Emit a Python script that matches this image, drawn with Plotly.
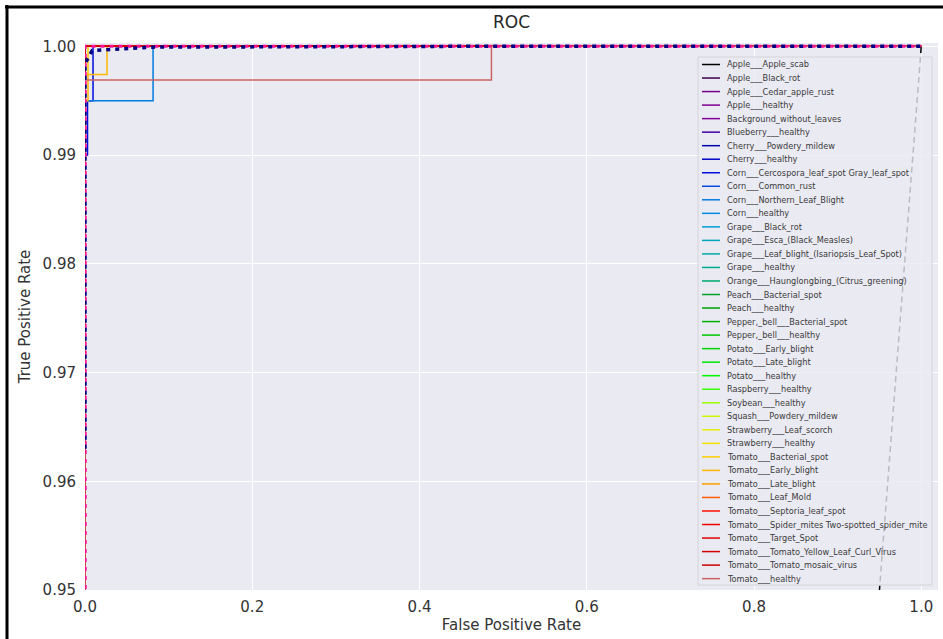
import plotly.graph_objects as go

# ---------------- data ----------------
class_names = [
    "Apple___Apple_scab", "Apple___Black_rot", "Apple___Cedar_apple_rust", "Apple___healthy",
    "Background_without_leaves", "Blueberry___healthy", "Cherry___Powdery_mildew", "Cherry___healthy",
    "Corn___Cercospora_leaf_spot Gray_leaf_spot", "Corn___Common_rust", "Corn___Northern_Leaf_Blight",
    "Corn___healthy", "Grape___Black_rot", "Grape___Esca_(Black_Measles)",
    "Grape___Leaf_blight_(Isariopsis_Leaf_Spot)", "Grape___healthy",
    "Orange___Haunglongbing_(Citrus_greening)", "Peach___Bacterial_spot", "Peach___healthy",
    "Pepper,_bell___Bacterial_spot", "Pepper,_bell___healthy", "Potato___Early_blight",
    "Potato___Late_blight", "Potato___healthy", "Raspberry___healthy", "Soybean___healthy",
    "Squash___Powdery_mildew", "Strawberry___Leaf_scorch", "Strawberry___healthy",
    "Tomato___Bacterial_spot", "Tomato___Early_blight", "Tomato___Late_blight", "Tomato___Leaf_Mold",
    "Tomato___Septoria_leaf_spot", "Tomato___Spider_mites Two-spotted_spider_mite",
    "Tomato___Target_Spot", "Tomato___Tomato_Yellow_Leaf_Curl_Virus", "Tomato___Tomato_mosaic_virus",
    "Tomato___healthy",
]

# curve of a perfectly separated class
perfect_fpr = [0.0, 0.0, 1.0]
perfect_tpr = [0.0, 1.0, 1.0]

# classes with visible imperfections
corn_cercospora_fpr = [0.0, 0.0, 0.003, 0.003, 0.0096, 0.0096, 1.0]
corn_cercospora_tpr = [0.0, 0.990, 0.990, 0.995, 0.995, 1.0, 1.0]
corn_northern_fpr = [0.0, 0.0, 0.0814, 0.0814, 1.0]
corn_northern_tpr = [0.0, 0.995, 0.995, 1.0, 1.0]
tomato_bacterial_fpr = [0.0, 0.0, 0.0036, 0.0036, 1.0]
tomato_bacterial_tpr = [0.0, 0.9974, 0.9974, 1.0, 1.0]
tomato_early_fpr = [0.0, 0.0, 0.0036, 0.0036, 0.0263, 0.0263, 1.0]
tomato_early_tpr = [0.0, 0.995, 0.995, 0.9974, 0.9974, 1.0, 1.0]
tomato_healthy_fpr = [0.0, 0.0, 0.486, 0.486, 1.0]
tomato_healthy_tpr = [0.0, 0.9969, 0.9969, 1.0, 1.0]

special_curves = {
    "Corn___Cercospora_leaf_spot Gray_leaf_spot": (corn_cercospora_fpr, corn_cercospora_tpr),
    "Corn___Northern_Leaf_Blight": (corn_northern_fpr, corn_northern_tpr),
    "Tomato___Bacterial_spot": (tomato_bacterial_fpr, tomato_bacterial_tpr),
    "Tomato___Early_blight": (tomato_early_fpr, tomato_early_tpr),
    "Tomato___healthy": (tomato_healthy_fpr, tomato_healthy_tpr),
}

micro_fpr = [0.0, 0.0, 0.0003, 1.0]
micro_tpr = [0.0, 0.9975, 1.0, 1.0]
macro_fpr = [0.0, 0.0, 0.0085, 0.0814, 0.486, 1.0]
macro_tpr = [0.963, 0.9984, 0.9996, 0.99992, 1.0, 1.0]

chance_fpr = [0.0, 1.0]
chance_tpr = [0.0, 1.0]

x_ticks = [0.0, 0.2, 0.4, 0.6, 0.8, 1.0]
y_ticks = [0.95, 0.96, 0.97, 0.98, 0.99, 1.00]

# ---------------- style ----------------
colors = [
    "#000000", "#3d0046", "#770088", "#800091", "#81009a", "#3b00a3", "#0000ae", "#0000c8",
    "#000cdd", "#0049dd", "#007bdd", "#008ddd", "#009cd5", "#00a4bb", "#00aaa4", "#00aa92",
    "#00a76c", "#009e26", "#00a100", "#00b200", "#00c400", "#00d500", "#00e700", "#00f800",
    "#3aff00", "#9aff00", "#ccf900", "#e6f100", "#f4e200", "#fdd000", "#ffb800", "#ff9e00",
    "#ff5a00", "#ff0c00", "#f00000", "#df0000", "#d50000", "#cc0000", "#cc6363",
]

FONT = "DejaVu Sans"
L, R, T, B = 85, 5, 43, 49
W, H = 943, 639
PW, PH = W - L - R, H - T - B


def px(x):
    return (x - L) / PW


def py(y):
    return (H - B - y) / PH


fig = go.Figure()

for name, col in zip(class_names, colors):
    fx, fy = special_curves.get(name, (perfect_fpr, perfect_tpr))
    fig.add_trace(go.Scatter(x=fx, y=fy, mode="lines", name=name,
                             line=dict(color=col, width=1.5), showlegend=False,
                             hoverinfo="skip"))

fig.add_trace(go.Scatter(x=micro_fpr, y=micro_tpr, mode="lines", name="micro-average",
                         line=dict(color="deeppink", width=3, dash="4px,5px"),
                         showlegend=False))
fig.add_trace(go.Scatter(x=macro_fpr, y=macro_tpr, mode="lines", name="macro-average",
                         line=dict(color="navy", width=3.5, dash="4px,5px"),
                         showlegend=False))
fig.add_trace(go.Scatter(x=chance_fpr, y=chance_tpr, mode="lines", name="chance",
                         line=dict(color="black", width=1.5, dash="6px,4px"),
                         showlegend=False))

shapes = []
annotations = []

# legend frame (semi-transparent like matplotlib)
lx0, lx1, ly0, ly1 = 698, 932, 57, 585
shapes.append(dict(type="rect", xref="paper", yref="paper", layer="above",
                   x0=px(lx0), x1=px(lx1), y0=py(ly1), y1=py(ly0),
                   fillcolor="rgba(234,234,242,0.8)", line=dict(color="#d4d4d8", width=1)))
row0, step = 64.5, 13.53
for i, (name, col) in enumerate(zip(class_names, colors)):
    yy = py(row0 + step * i)
    shapes.append(dict(type="line", xref="paper", yref="paper", layer="above",
                       x0=px(702), x1=px(720), y0=yy, y1=yy,
                       line=dict(color=col, width=1.5)))
    annotations.append(dict(xref="paper", yref="paper", x=px(725), y=yy, text=name,
                            showarrow=False, xanchor="left", yanchor="middle",
                            font=dict(family=FONT, size=8.2, color="#3a3a3a")))

# black frame of the screenshot (top and left)
shapes.append(dict(type="line", xref="paper", yref="paper", layer="above",
                   x0=px(5), x1=px(943), y0=py(7), y1=py(7),
                   line=dict(color="black", width=3)))
shapes.append(dict(type="line", xref="paper", yref="paper", layer="above",
                   x0=px(7), x1=px(7), y0=py(5), y1=py(639),
                   line=dict(color="black", width=3)))

fig.update_layout(
    width=W, height=H,
    margin=dict(l=L, r=R, t=T, b=B, pad=0),
    paper_bgcolor="white", plot_bgcolor="#EAEAF2",
    title=dict(text="ROC", x=0.5, xref="paper", xanchor="center", y=1 - 22 / H, yanchor="middle",
               font=dict(family=FONT, size=17, color="#262626")),
    font=dict(family=FONT, color="#262626"),
    shapes=shapes, annotations=annotations,
    showlegend=False,
)
fig.update_xaxes(range=[0.0, 1.02], tickvals=x_ticks, tickformat=".1f",
                 showgrid=True, gridcolor="white", gridwidth=1.2, zeroline=False, showline=False,
                 ticks="", ticklabelstandoff=6,
                 tickfont=dict(family=FONT, size=15, color="#333333"),
                 title=dict(text="False Positive Rate", standoff=4,
                            font=dict(family=FONT, size=15, color="#333333")))
fig.update_yaxes(range=[0.95, 1.0003], tickvals=y_ticks, tickformat=".2f",
                 showgrid=True, gridcolor="white", gridwidth=1.2, zeroline=False, showline=False,
                 ticks="", ticklabelstandoff=8,
                 tickfont=dict(family=FONT, size=15, color="#333333"),
                 title=dict(text="True Positive Rate", standoff=8,
                            font=dict(family=FONT, size=15, color="#333333")))

fig.write_html("out.html", config={"displayModeBar": False},
               post_script="document.body.style.margin='0';")
